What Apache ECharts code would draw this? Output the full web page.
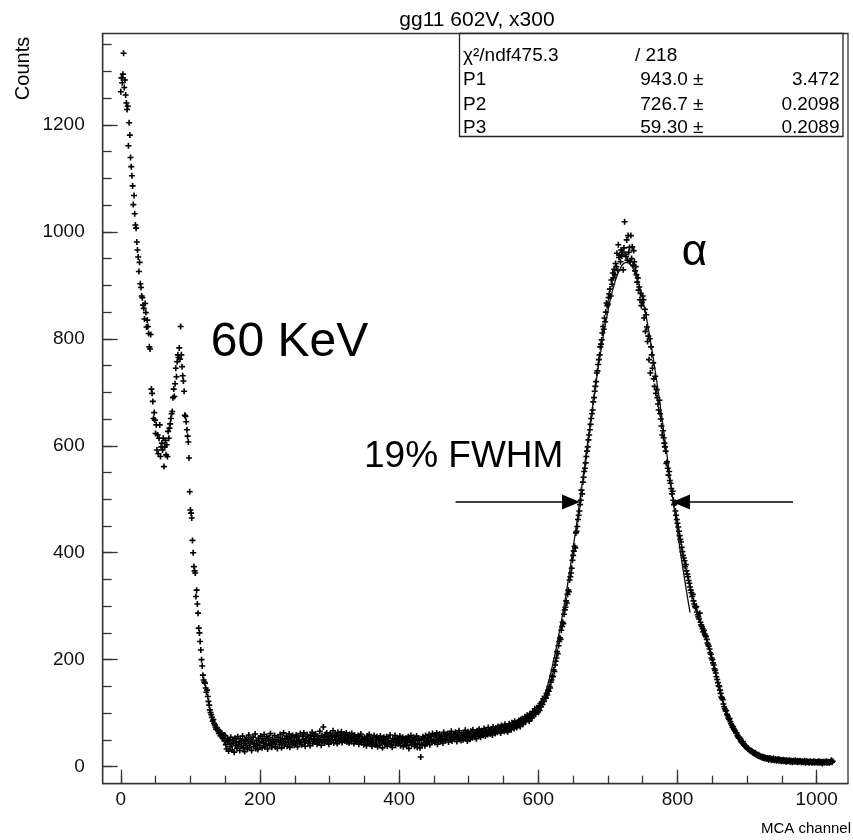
<!DOCTYPE html>
<html><head><meta charset="utf-8">
<script src="https://cdn.jsdelivr.net/npm/echarts@6/dist/echarts.min.js"></script>
<style>html,body{margin:0;padding:0;background:#fff}#c{width:853px;height:840px}</style>
</head><body><div id="c"></div>
<script>
// ---- data ----
const channelStart = 0;
const counts = [
1262,1288,1279,1295,1334,1270,1284,1256,1241,1229,
1235,1161,1204,1181,1139,1122,1105,1086,1051,1068,
1034,1013,1007,981,966,953,926,943,903,896,
880,877,863,857,837,866,849,822,835,823,
810,785,781,808,706,698,683,651,662,648,
623,639,592,620,585,614,639,580,598,605,
592,614,561,598,610,583,602,580,627,614,
633,641,651,660,664,690,706,692,716,745,
729,757,770,765,783,762,823,770,748,731,
721,702,657,655,645,630,618,607,577,514,
480,474,465,423,400,374,366,362,318,330,
304,287,259,250,234,218,200,188,171,162,
158,156,147,139,143,131,122,115,106,101,
97,92,85,88,81,78,74,70,73,68,
69,62,66,58,61,63,55,52,59,48,
58,41,33,52,46,29,49,37,55,42,
31,50,44,27,53,39,47,34,56,41,
45,30,52,38,48,57,35,43,28,50,
40,54,33,47,59,36,44,51,30,46,
55,38,43,61,34,49,41,32,53,45,
39,57,47,35,52,44,60,37,49,42,
56,33,48,54,40,62,45,36,51,47,
43,58,37,50,46,34,55,49,41,60,
48,35,53,44,63,39,51,46,57,38,
52,45,61,36,49,55,42,58,47,40,
54,43,59,48,37,56,50,44,62,46,
41,57,51,63,45,38,53,48,60,44,
55,47,39,58,52,64,43,50,57,46,
61,49,42,56,53,45,66,50,40,58,
47,74,55,44,60,51,63,48,57,42,
53,62,46,58,50,67,44,55,61,49,
57,43,64,52,47,59,54,65,45,56,
50,61,48,55,63,46,58,52,44,60,
54,47,62,51,57,43,59,49,55,46,
52,58,42,56,48,61,45,53,50,41,
55,46,51,39,57,44,49,60,42,53,
47,38,54,45,58,41,50,44,56,37,
49,53,40,57,46,51,35,48,55,43,
50,42,56,38,47,53,44,59,41,48,
36,52,45,49,58,40,46,54,43,51,
44,57,39,50,47,55,37,52,46,42,
53,40,48,56,34,51,45,58,41,49,
46,55,38,50,43,57,36,49,53,42,
35,18,50,40,56,44,52,39,58,47,
43,54,49,60,41,51,57,46,62,48,
56,45,59,50,63,42,55,48,61,52,
47,58,53,44,64,51,57,49,60,54,
62,46,55,59,50,66,48,57,53,61,
51,64,56,47,60,54,67,52,58,49,
63,55,50,61,57,68,53,59,48,65,
56,62,51,66,58,54,69,60,55,64,
59,52,67,61,57,70,63,55,66,60,
64,58,71,62,57,68,65,60,73,63,
67,61,70,65,59,74,66,69,62,72,
68,64,75,70,66,73,63,77,71,69,
74,66,79,71,68,76,65,73,80,70,
75,69,82,74,78,71,85,76,80,73,
83,77,86,80,75,88,82,90,79,85,
87,93,84,90,96,88,94,85,99,92,
97,91,103,95,100,108,98,104,110,102,
107,113,105,118,112,121,116,127,122,131,
130,128,137,134,143,141,150,147,158,162,
170,168,181,178,190,197,203,215,211,226,
234,241,238,255,262,270,267,285,293,298,
310,306,322,330,327,349,355,362,371,386,
395,403,412,409,437,440,449,462,470,478,
490,498,517,510,532,541,552,558,568,580,
590,598,611,620,630,640,651,660,667,682,
690,702,711,720,736,740,752,761,770,785,
790,798,811,823,818,839,832,850,867,862,
865,877,884,893,880,910,902,923,914,930,
920,941,935,960,928,976,952,957,944,966,
955,962,929,970,1019,958,954,985,947,993,
962,971,944,993,950,972,938,965,944,927,
935,920,906,914,891,897,873,885,862,868,
880,873,839,855,814,845,822,795,805,761,
800,736,785,770,745,755,725,711,730,698,
705,690,678,667,685,660,650,637,620,628,
615,605,598,590,567,570,558,545,552,535,
530,520,510,515,498,490,493,478,470,462,
455,448,440,432,425,420,410,402,395,390,
385,374,378,366,360,355,348,343,336,330,
325,318,322,310,304,300,297,299,289,284,
280,276,287,270,265,262,258,252,255,248,
245,243,238,231,228,225,220,213,210,203,
200,194,190,183,180,175,168,163,157,151,
150,143,137,130,128,125,117,112,108,104,
105,98,95,91,88,90,84,80,77,73,
75,70,68,66,63,63,58,56,53,55,
52,48,46,44,47,42,40,38,39,36,
35,33,34,31,30,30,28,29,26,27,
25,24,26,22,23,21,20,22,19,20,
18,17,19,16,18,15,17,16,14,16,
15,13,16,14,15,12,14,13,15,12,
13,14,11,13,12,14,11,13,12,10,
12,11,13,10,12,11,9,12,10,11,
10,12,9,11,10,8,11,10,9,12,
10,9,11,8,10,9,11,10,8,9,
10,8,9,11,7,9,10,8,9,7,
9,10,8,7,9,8,10,7,9,8,
8,9,7,10,8,7,9,8,6,9,
8,7,9,8,10,7,8,9,7,8,
9,12,8,10
];
// Gaussian fit curve
const fitChannels = [600,610,620,630,640,650,660,670,680,690,700,710,720,726.7,730,740,750,760,770,780,790,800,810,818];
const fitCounts   = [96,136,187,250,324,409,501,597,692,779,852,906,937,943,942,920,873,805,722,630,533,439,352,288];
// axis ticks
const xMajorTicks = [0,200,400,600,800,1000];
const xMinorTicks = [0,50,100,150,200,250,300,350,400,450,500,550,600,650,700,750,800,850,900,950,1000];
const yMajorTicks = [0,200,400,600,800,1000,1200];
const yMinorTicks = [0,50,100,150,200,250,300,350,400,450,500,550,600,650,700,750,800,850,900,950,1000,1050,1100,1150,1200,1250,1300,1350];
// FWHM arrows: [fromChannel, toChannel] at a count level (arrowhead centred on the end)
const fwhmLevel = 495;
const fwhmArrows = [[481, 647], [966, 805]];
// stats box
const titleText = 'gg11 602V, x300';
const chi2Text = 'χ²/ndf475.3';
const ndfText = '/ 218';
const statNames = ['P1','P2','P3'];
const statValues = ['943.0 ±','726.7 ±','59.30 ±'];
const statErrors = ['3.472','0.2098','0.2089'];

// ---- chart ----
const FONT = '"Liberation Sans", Arial, sans-serif';
const AX = '#333';
const points = counts.map((v, i) => [channelStart + i, v]);
const fitData = fitChannels.map((c, i) => [c, fitCounts[i]]);
const plus = 'path://M2.2,0H3.8V2.2H6V3.8H3.8V6H2.2V3.8H0V2.2H2.2Z';

const chart = echarts.init(document.getElementById('c'), null, {renderer: 'canvas'});

function txt(text, x, y, size, align, extra) {
  return Object.assign({
    type: 'text', x: x, y: y, silent: true, z: 100,
    style: {text: text, fontSize: size, fontFamily: FONT, fill: '#000',
      align: align, textAlign: align, verticalAlign: 'middle', textVerticalAlign: 'middle'}
  }, extra || {});
}

const graphics = [
  txt(titleText, 477, 20.5, 21, 'center'),
  txt('Counts', 23, 68.5, 20, 'center', {rotation: Math.PI / 2}),
  txt('MCA channel', 851, 829, 15, 'right'),
  {type: 'rect', shape: {x: 459.5, y: 33.5, width: 383.5, height: 103}, z: 90, silent: true,
    style: {fill: '#fff', stroke: '#222', lineWidth: 1.3}},
  txt(chi2Text, 463, 56, 19, 'left'),
  txt(ndfText, 635, 56, 19, 'left'),
  txt('60 KeV', 210.7, 343, 48, 'left'),
  txt('19% FWHM', 364, 457, 37, 'left'),
  txt('α', 681.7, 253, 44, 'left')
];
const rowsY = [80, 104.5, 128];
statNames.forEach((n, i) => {
  graphics.push(txt(n, 463, rowsY[i], 19, 'left'));
  graphics.push(txt(statValues[i], 703.5, rowsY[i], 19, 'right'));
  graphics.push(txt(statErrors[i], 839.5, rowsY[i], 19, 'right'));
});

const plain = v => String(v);
const xBase = {type: 'value', min: -26, max: 1045, position: 'bottom', splitLine: {show: false}};
const yBase = {type: 'value', min: -32, max: 1371, position: 'left', splitLine: {show: false}};

chart.setOption({
  animation: false,
  backgroundColor: '#fff',
  grid: {left: 102.7, top: 33.5, right: 5, bottom: 56.3, show: true, borderColor: AX, borderWidth: 1.3, backgroundColor: 'transparent'},
  xAxis: [
    Object.assign({}, xBase, {
      axisLine: {show: true, onZero: false, lineStyle: {color: AX, width: 1.3}},
      axisTick: {show: true, inside: true, length: 14, customValues: xMajorTicks, lineStyle: {color: AX, width: 1.3}},
      axisLabel: {show: true, customValues: xMajorTicks, formatter: plain, fontSize: 19, fontFamily: FONT, color: '#111', margin: 7}
    }),
    Object.assign({}, xBase, {
      axisLine: {show: false, onZero: false},
      axisTick: {show: true, inside: true, length: 8, customValues: xMinorTicks, lineStyle: {color: AX, width: 1.3}},
      axisLabel: {show: false}
    })
  ],
  yAxis: [
    Object.assign({}, yBase, {
      axisLine: {show: true, onZero: false, lineStyle: {color: AX, width: 1.3}},
      axisTick: {show: true, inside: true, length: 15, customValues: yMajorTicks, lineStyle: {color: AX, width: 1.3}},
      axisLabel: {show: true, customValues: yMajorTicks, formatter: plain, fontSize: 19, fontFamily: FONT, color: '#111', margin: 18}
    }),
    Object.assign({}, yBase, {
      axisLine: {show: false, onZero: false},
      axisTick: {show: true, inside: true, length: 9, customValues: yMinorTicks, lineStyle: {color: AX, width: 1.3}},
      axisLabel: {show: false}
    })
  ],
  series: [
    {type: 'scatter', xAxisIndex: 0, yAxisIndex: 0, data: points, symbol: plus, symbolSize: 6,
      itemStyle: {color: '#000', opacity: 1}, silent: true, z: 3},
    {type: 'line', xAxisIndex: 0, yAxisIndex: 0, data: fitData, smooth: true, showSymbol: false, symbol: 'none',
      lineStyle: {color: '#111', width: 1.3}, silent: true, z: 4,
      markLine: {silent: true, symbol: ['none', 'triangle'], symbolSize: [15, 18], animation: false,
        lineStyle: {color: '#000', width: 1.5, type: 'solid'}, label: {show: false},
        data: fwhmArrows.map(a => [{coord: [a[0], fwhmLevel]}, {coord: [a[1], fwhmLevel]}])}
    }
  ],
  graphic: graphics
});
</script></body></html>
